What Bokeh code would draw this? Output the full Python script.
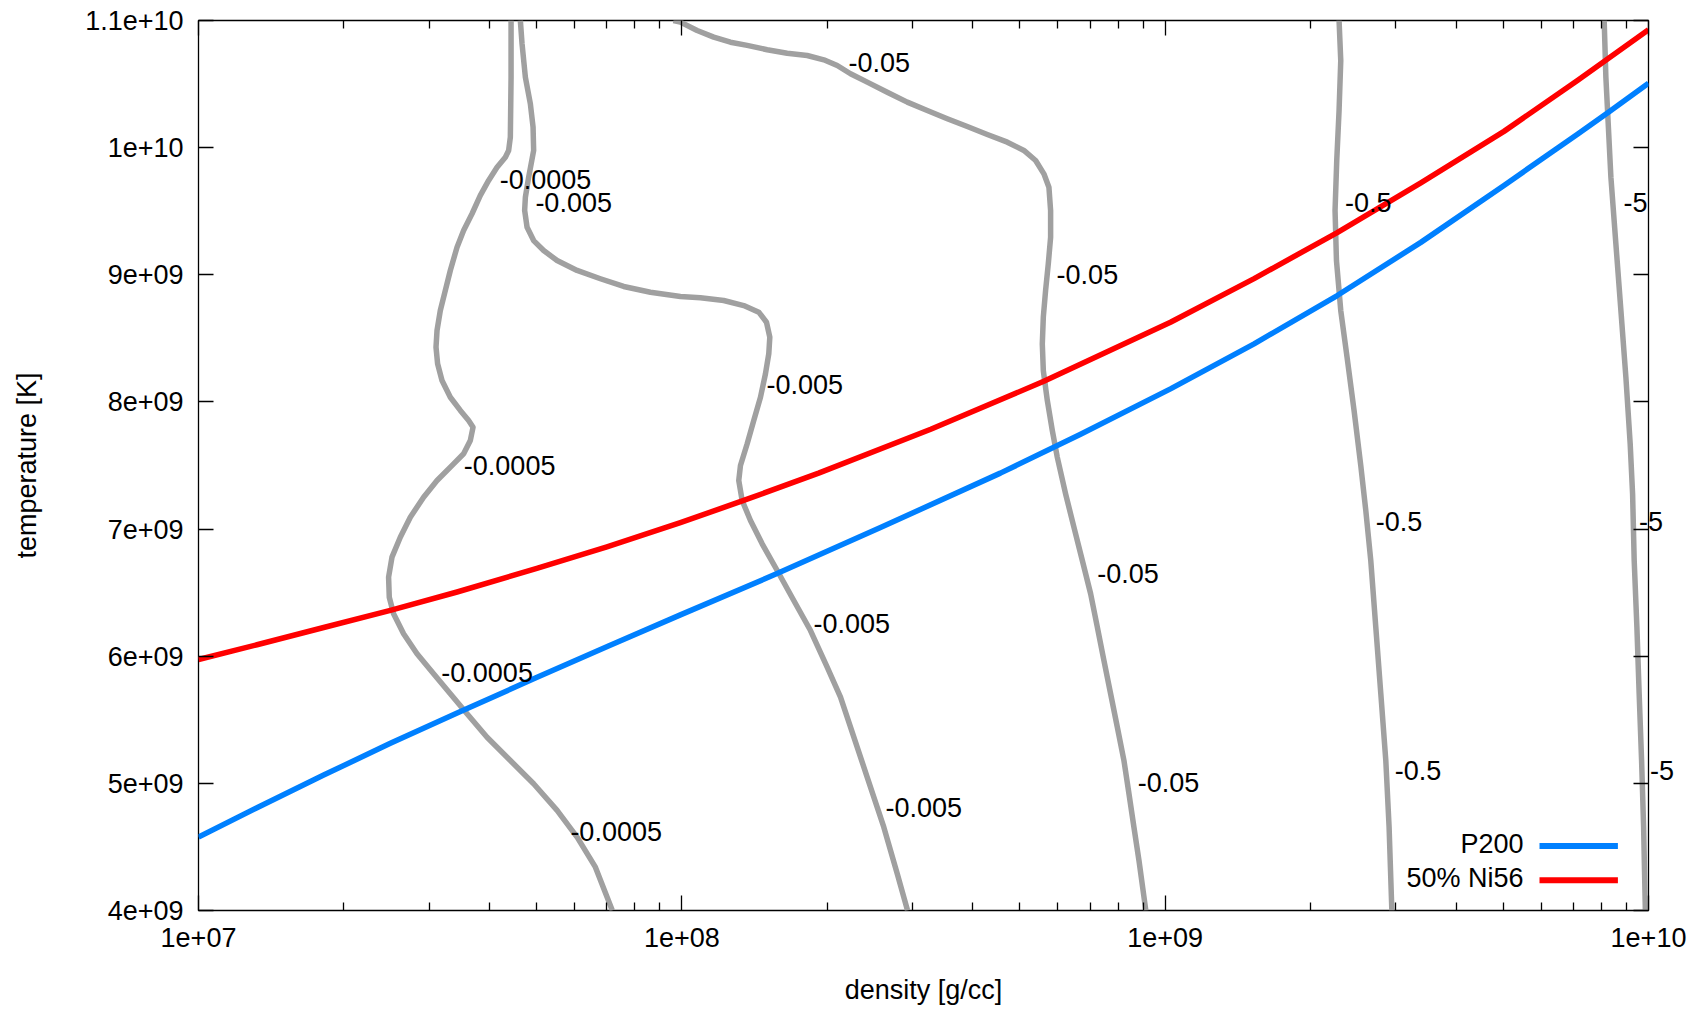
import numpy as np
from bokeh.plotting import figure
from bokeh.models import (LogAxis, LinearAxis, FixedTicker, Label, BoxAnnotation, Range1d)
from bokeh.embed import file_html
from bokeh.resources import INLINE

FONT = "Liberation Sans"
FS = "27px"

# ---------------- axes ----------------
x_ticks = [1e7, 1e8, 1e9, 1e10]
x_tick_labels = ["1e+07", "1e+08", "1e+09", "1e+10"]
x_minor_ticks = [2e7, 3e7, 4e7, 5e7, 6e7, 7e7, 8e7, 9e7,
                 2e8, 3e8, 4e8, 5e8, 6e8, 7e8, 8e8, 9e8,
                 2e9, 3e9, 4e9, 5e9, 6e9, 7e9, 8e9, 9e9]
y_ticks = [4e9, 5e9, 6e9, 7e9, 8e9, 9e9, 1e10, 1.1e10]
y_tick_labels = ["4e+09", "5e+09", "6e+09", "7e+09", "8e+09", "9e+09", "1e+10", "1.1e+10"]

# ---------------- curves: log10(density [g/cc]) , temperature [1e9 K] ----------------
p200_logrho = [7.0, 7.121, 7.259, 7.397, 7.542, 7.697, 7.847, 7.997, 8.197, 8.411,
               8.659, 8.825, 9.011, 9.184, 9.356, 9.529, 9.701, 9.853, 9.915, 10.0]
p200_T9 = [4.577, 4.808, 5.065, 5.315, 5.565, 5.828, 6.078, 6.325, 6.650, 7.012,
           7.440, 7.745, 8.103, 8.457, 8.837, 9.255, 9.703, 10.106, 10.273, 10.507]

ni56_logrho = [7.0, 7.121, 7.259, 7.397, 7.535, 7.700, 7.845, 7.997, 8.128, 8.283,
               8.515, 8.749, 9.011, 9.184, 9.356, 9.529, 9.701, 9.853, 10.0]
ni56_T9 = [5.974, 6.090, 6.226, 6.360, 6.505, 6.690, 6.860, 7.051, 7.225, 7.440,
           7.785, 8.162, 8.627, 8.970, 9.332, 9.722, 10.128, 10.528, 10.927]

# ---------------- contour lines ----------------
c0005_logrho = [7.6467, 7.6467, 7.6452, 7.6417, 7.6349, 7.6177, 7.6003, 7.5831, 7.5659, 7.5485,
                7.5349, 7.5210, 7.5107, 7.5003, 7.4935, 7.4914, 7.4947, 7.5038, 7.5210, 7.5417,
                7.5589, 7.5680, 7.5624, 7.5485, 7.5278, 7.4935, 7.4657, 7.4382, 7.4175, 7.4003,
                7.3933, 7.3947, 7.4036, 7.4243, 7.4521, 7.4864, 7.5210, 7.5556, 7.5970, 7.6452,
                7.6934, 7.7419, 7.7833, 7.8212, 7.8562]
c0005_T9 = [11.000, 10.554, 10.082, 9.978, 9.925, 9.846, 9.742, 9.624, 9.480, 9.349,
            9.217, 9.034, 8.877, 8.719, 8.562, 8.431, 8.300, 8.169, 8.037, 7.933,
            7.854, 7.801, 7.697, 7.592, 7.513, 7.382, 7.251, 7.093, 6.936, 6.779,
            6.622, 6.464, 6.334, 6.176, 6.019, 5.862, 5.704, 5.547, 5.363, 5.180,
            4.997, 4.787, 4.577, 4.341, 4.000]

c005_logrho = [7.6659, 7.6694, 7.6763, 7.6866, 7.6922, 7.6934, 7.6831, 7.6763, 7.6748, 7.6798,
               7.6934, 7.7141, 7.7419, 7.7833, 7.8315, 7.8797, 7.9350, 7.9971, 8.0385, 8.0867,
               8.1281, 8.1592, 8.1751, 8.1820, 8.1799, 8.1730, 8.1627, 8.1488, 8.1352, 8.1213,
               8.1178, 8.1248, 8.1420, 8.1662, 8.1973, 8.2316, 8.2662, 8.3007, 8.3283, 8.3490,
               8.3836, 8.4179, 8.4457, 8.4670]
c005_T9 = [11.000, 10.817, 10.554, 10.345, 10.161, 9.978, 9.768, 9.610, 9.506, 9.374,
           9.269, 9.191, 9.112, 9.034, 8.969, 8.908, 8.863, 8.829, 8.819, 8.798,
           8.758, 8.706, 8.627, 8.509, 8.379, 8.221, 8.037, 7.854, 7.671, 7.500,
           7.382, 7.225, 7.067, 6.884, 6.674, 6.438, 6.202, 5.914, 5.678, 5.442,
           5.048, 4.655, 4.289, 4.000]

c05_logrho = [7.9826, 7.9971, 8.0317, 8.0660, 8.1006, 8.1352, 8.1766, 8.2180, 8.2594, 8.2937,
              8.3215, 8.3490, 8.3836, 8.4250, 8.4664, 8.5078, 8.5492, 8.5906, 8.6320, 8.6734,
              8.7077, 8.7320, 8.7491, 8.7595, 8.7630, 8.7630, 8.7582, 8.7526, 8.7479, 8.7458,
              8.7479, 8.7562, 8.7665, 8.7768, 8.7940, 8.8112, 8.8286, 8.8458, 8.8597, 8.8733,
              8.8872, 8.9010, 8.9147, 8.9251, 8.9354, 8.9458, 8.9600]
c05_T9 = [11.000, 10.987, 10.921, 10.869, 10.829, 10.804, 10.770, 10.743, 10.725, 10.691,
          10.646, 10.581, 10.515, 10.436, 10.358, 10.292, 10.227, 10.166, 10.103, 10.043,
          9.978, 9.899, 9.794, 9.689, 9.505, 9.296, 9.086, 8.877, 8.667, 8.457,
          8.247, 8.011, 7.775, 7.565, 7.277, 7.015, 6.753, 6.491, 6.228, 5.966,
          5.704, 5.442, 5.180, 4.918, 4.655, 4.393, 4.000]

c5_logrho = [9.3598, 9.3633, 9.3598, 9.3550, 9.3515, 9.3544, 9.3633, 9.3772, 9.3908, 9.4047,
             9.4151, 9.4254, 9.4358, 9.4462, 9.4565, 9.4633, 9.4690]
c5_T9 = [11.0, 10.685, 10.292, 9.899, 9.505, 9.112, 8.719, 8.326, 7.933, 7.500,
         7.146, 6.753, 6.228, 5.704, 5.180, 4.655, 4.0]

c50_logrho = [9.9083, 9.9118, 9.9153, 9.9222, 9.9325, 9.9429, 9.9532, 9.9621, 9.9671, 9.9704,
              9.9760, 9.9807, 9.9857, 9.9899, 9.9935]
c50_T9 = [11.0, 10.554, 10.292, 9.768, 9.244, 8.719, 8.195, 7.671, 7.277, 6.753,
          6.228, 5.704, 5.180, 4.655, 4.0]

contour_label_text = ["-0.0005", "-0.0005", "-0.0005", "-0.0005",
                      "-0.005", "-0.005", "-0.005", "-0.005",
                      "-0.05", "-0.05", "-0.05", "-0.05",
                      "-0.5", "-0.5", "-0.5",
                      "-5", "-5", "-5"]
contour_label_logrho = [7.6231, 7.5490, 7.5024, 7.7694,
                        7.6970, 8.1751, 8.2724, 8.4214,
                        8.3449, 8.7754, 8.8593, 8.9431,
                        9.3722, 9.4357, 9.4751,
                        9.9484, 9.9802, 10.0050]
contour_label_T9 = [9.750, 7.503, 5.870, 4.625,
                    9.565, 8.136, 6.260, 4.813,
                    10.670, 9.004, 6.651, 5.007,
                    9.565, 7.060, 5.105,
                    9.565, 7.060, 5.105]

series_names = ["P200", "50% Ni56"]
series_colors = ["#0080ff", "#ff0000"]
contour_color = "#a0a0a0"

# layout
W, H = 1702, 1009
BL, BR, BT, BB = 198, 54, 20, 99
FRAME_W, FRAME_H = W - BL - BR, H - BT - BB
X_LO, X_HI, Y_LO, Y_HI = 1e7, 1e10, 4e9, 1.1e10
SIDE_PANEL_STEP = 25   # each extra label in the right side panel is stacked this far outward


def rho(v):
    return 10.0 ** np.asarray(v)


def temp(v):
    return np.asarray(v) * 1e9


p = figure(width=W, height=H, x_axis_type="log",
           x_range=Range1d(X_LO, X_HI), y_range=Range1d(Y_LO, Y_HI),
           output_backend="svg", toolbar_location=None,
           min_border_left=BL, min_border_right=BR, min_border_top=BT, min_border_bottom=BB,
           background_fill_color="white", border_fill_color="white")
p.grid.visible = False
p.outline_line_color = "black"
p.outline_line_width = 1.3

# bottom axis
xa = p.xaxis[0]
xa.ticker = FixedTicker(ticks=x_ticks, minor_ticks=x_minor_ticks)
xa.major_label_overrides = dict(zip(x_ticks, x_tick_labels))
xa.axis_label = "density [g/cc]"
# left axis
ya = p.yaxis[0]
ya.ticker = FixedTicker(ticks=y_ticks)
ya.major_label_overrides = dict(zip(y_ticks, y_tick_labels))
ya.axis_label = "temperature [K]"

for ax in (xa, ya):
    ax.axis_line_color = None
    ax.major_tick_in = 15
    ax.major_tick_out = 0
    ax.minor_tick_in = 8
    ax.minor_tick_out = 0
    ax.major_tick_line_color = "black"
    ax.minor_tick_line_color = "black"
    ax.major_tick_line_width = 1.3
    ax.minor_tick_line_width = 1.3
    ax.major_label_text_font = FONT
    ax.major_label_text_font_size = FS
    ax.major_label_text_color = "black"
    ax.axis_label_text_font = FONT
    ax.axis_label_text_font_size = FS
    ax.axis_label_text_font_style = "normal"
    ax.axis_label_text_color = "black"

xa.major_label_standoff = 17
xa.axis_label_standoff = 25
ya.major_label_standoff = 15
ya.axis_label_standoff = 40

# mirrored axes (ticks only)
top = LogAxis(ticker=FixedTicker(ticks=x_ticks, minor_ticks=x_minor_ticks))
right = LinearAxis(ticker=FixedTicker(ticks=y_ticks))
for ax in (top, right):
    ax.axis_line_color = None
    ax.major_tick_in = 15
    ax.major_tick_out = 0
    ax.minor_tick_in = 8
    ax.minor_tick_out = 0
    ax.major_tick_line_color = "black"
    ax.minor_tick_line_color = "black"
    ax.major_tick_line_width = 1.3
    ax.minor_tick_line_width = 1.3
    ax.major_label_text_font_size = "0px"
    ax.major_label_text_color = None
    ax.major_label_standoff = 0
p.add_layout(top, "above")
p.add_layout(right, "right")

# contours
for lr, tt in [(c0005_logrho, c0005_T9), (c005_logrho, c005_T9), (c05_logrho, c05_T9),
               (c5_logrho, c5_T9), (c50_logrho, c50_T9)]:
    p.line(rho(lr), temp(tt), line_color=contour_color, line_width=5.5, line_join="round")

# curves
p.line(rho(p200_logrho), temp(p200_T9), line_color=series_colors[0], line_width=5.5,
       line_join="round")
p.line(rho(ni56_logrho), temp(ni56_T9), line_color=series_colors[1], line_width=5.5,
       line_join="round")

# contour labels
n_side = 0
for txt, lr, t9 in zip(contour_label_text, contour_label_logrho, contour_label_T9):
    common = dict(text=txt, text_font=FONT, text_font_size=FS, text_color="black",
                  text_align="left", text_baseline="middle")
    if lr < 9.97:
        p.add_layout(Label(x=float(10.0 ** lr), y=float(t9 * 1e9), **common))
    else:
        # label running past the right frame edge: put it in the right side panel
        # (annotations in the centre are clipped to the frame)
        sx = (lr - np.log10(X_HI)) / (np.log10(X_HI) - np.log10(X_LO)) * FRAME_W
        sx -= n_side * SIDE_PANEL_STEP
        sy = (t9 * 1e9 - Y_LO) / (Y_HI - Y_LO) * FRAME_H
        p.add_layout(Label(x=float(sx), y=float(sy), x_units="screen", y_units="screen",
                           **common), "right")
        n_side += 1

# legend (gnuplot style: text then sample line), positioned in screen units
legend_y = [66.7, 32.5]
for name, col, ly in zip(series_names, series_colors, legend_y):
    p.add_layout(Label(x=1325, y=ly, x_units="screen", y_units="screen", text=name,
                       text_font=FONT, text_font_size=FS, text_color="black",
                       text_align="right", text_baseline="middle"))
    p.add_layout(BoxAnnotation(left=1341, right=1419.4, bottom=ly - 5.2, top=ly + 0.8,
                               left_units="screen", right_units="screen",
                               bottom_units="screen", top_units="screen",
                               fill_color=col, fill_alpha=1.0, line_color=None))

open("out.html", "w").write(file_html(p, INLINE))
